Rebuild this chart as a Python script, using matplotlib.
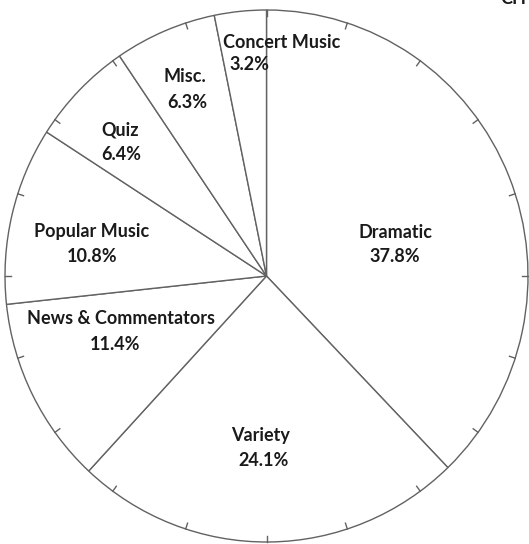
import numpy as np
import matplotlib
matplotlib.use("Agg")
import matplotlib.pyplot as plt

categories = ["Dramatic", "Variety", "News & Commentators", "Popular Music",
              "Quiz", "Misc.", "Concert Music"]
shares = [37.8, 24.1, 11.4, 10.8, 6.4, 6.3, 3.2]
pct_labels = ["37.8%", "24.1%", "11.4%", "10.8%", "6.4%", "6.3%", "3.2%"]

W, H = 529, 544
# the scanned circle is slightly taller than wide
sy = 266.0 / 261.5

fig = plt.figure(figsize=(W / 100, H / 100), dpi=100)
fig.patch.set_facecolor("white")
ax = fig.add_axes([0, 0, 1, 1])


def Y(py):
    return (H - py) / sy


cx, cy, r = 266.5, Y(276), 261.5
line_col = "#626262"
ax.pie(shares, startangle=90, counterclock=False, center=(cx, cy), radius=r,
       wedgeprops=dict(facecolor="white", edgecolor=line_col, linewidth=1.0))

# scale ticks every 5%
for k in range(20):
    ang = np.deg2rad(90 - k * 18)
    x0, y0 = cx + r * np.cos(ang), cy + r * np.sin(ang)
    x1, y1 = cx + (r - 6) * np.cos(ang), cy + (r - 6) * np.sin(ang)
    ax.plot([x0, x1], [y0, y1], color=line_col, lw=1.0)

ax.set_xlim(0, W)
ax.set_ylim(0, H / sy)
ax.set_aspect("auto")
ax.axis("off")

font = dict(family=["Lato", "DejaVu Sans"], fontweight="bold", color="#1a1a1a")
fs = 13
# (name position, pct position, alignment) in pixel coords from top
pos = {
    "Dramatic": ((396, 232), (395, 257), "center"),
    "Variety": ((261, 436), (264, 460), "center"),
    "News & Commentators": ((121, 319), (115, 344), "center"),
    "Popular Music": ((92, 231), (92, 256), "center"),
    "Quiz": ((120, 130), (121, 155), "center"),
    "Misc.": ((185, 77), (187, 102), "center"),
    "Concert Music": ((223, 43), (229, 65), "left"),
}
for name, pct in zip(categories, pct_labels):
    (nx, ny), (px, py), ha = pos[name]
    ax.text(nx, Y(ny), name, ha=ha, va="center", fontsize=fs, **font)
    ax.text(px, Y(py), pct, ha=ha, va="center", fontsize=fs, **font)

fig.text(500 / W, 1 - 4 / H, "CH", ha="left", va="baseline", fontsize=13, **font)

fig.savefig("out.png", dpi=100, facecolor="white")
